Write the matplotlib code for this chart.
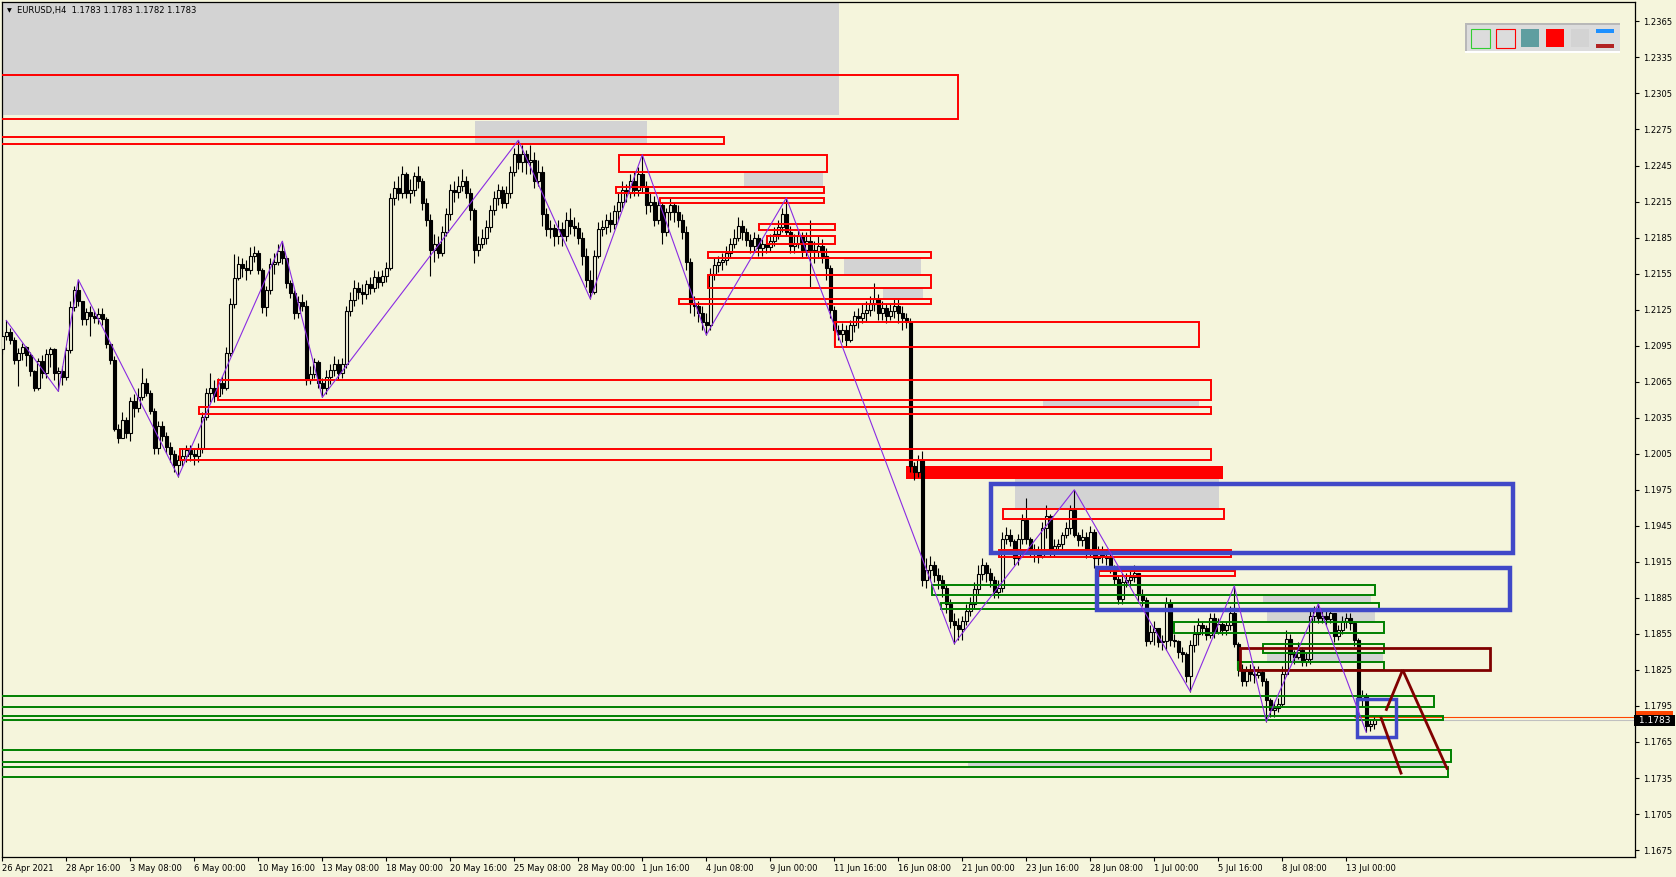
import matplotlib
matplotlib.use("Agg")
import matplotlib.pyplot as plt
from matplotlib.patches import Rectangle
import matplotlib.transforms as mtransforms

W, H = 1676, 877
BG = '#f5f5dc'

# ---- EURUSD H4 candles (bar 0 = 26 Apr 2021 00:00), open = previous close
first_open = 1.2092
closes = [
    1.2103, 1.2106, 1.2100, 1.2083, 1.2089, 1.2094, 1.2087, 1.2074, 1.2060, 1.2082, 1.2072, 1.2088,
    1.2092, 1.2072, 1.2074, 1.2069, 1.2091, 1.2127, 1.2141, 1.2132, 1.2117, 1.2123, 1.2120, 1.2118,
    1.2121, 1.2117, 1.2096, 1.2083, 1.2026, 1.2018, 1.2033, 1.2022, 1.2049, 1.2043, 1.2052, 1.2064,
    1.2056, 1.2041, 1.2010, 1.2028, 1.2020, 1.2011, 1.2005, 1.1996, 1.2000, 1.2003, 1.2008, 1.2005,
    1.2003, 1.2010, 1.2036, 1.2056, 1.2060, 1.2053, 1.2064, 1.2060, 1.2089, 1.2130, 1.2151, 1.2163,
    1.2160, 1.2158, 1.2170, 1.2172, 1.2158, 1.2127, 1.2141, 1.2163, 1.2165, 1.2174, 1.2168, 1.2147,
    1.2139, 1.2122, 1.2131, 1.2128, 1.2066, 1.2071, 1.2081, 1.2064, 1.2060, 1.2069, 1.2075, 1.2080,
    1.2072, 1.2080, 1.2124, 1.2133, 1.2143, 1.2140, 1.2138, 1.2146, 1.2143, 1.2152, 1.2148, 1.2153,
    1.2160, 1.2218, 1.2226, 1.2222, 1.2238, 1.2222, 1.2225, 1.2236, 1.2232, 1.2214, 1.2200, 1.2175,
    1.2180, 1.2172, 1.2190, 1.2205, 1.2225, 1.2223, 1.2228, 1.2232, 1.2222, 1.2208, 1.2175, 1.2180,
    1.2185, 1.2194, 1.2208, 1.2218, 1.2225, 1.2214, 1.2222, 1.2240, 1.2255, 1.2248, 1.2255, 1.2248,
    1.2250, 1.2232, 1.2240, 1.2205, 1.2192, 1.2193, 1.2186, 1.2192, 1.2186, 1.2200, 1.2195, 1.2193,
    1.2185, 1.2170, 1.2150, 1.2140, 1.2170, 1.2192, 1.2194, 1.2200, 1.2196, 1.2207, 1.2215, 1.2225,
    1.2222, 1.2232, 1.2225, 1.2238, 1.2228, 1.2212, 1.2215, 1.2200, 1.2212, 1.2190, 1.2206, 1.2212,
    1.2206, 1.2200, 1.2190, 1.2165, 1.2130, 1.2128, 1.2122, 1.2115, 1.2112, 1.2155, 1.2162, 1.2165,
    1.2166, 1.2172, 1.2180, 1.2185, 1.2195, 1.2190, 1.2183, 1.2178, 1.2185, 1.2176, 1.2180, 1.2177,
    1.2182, 1.2188, 1.2194, 1.2205, 1.2190, 1.2178, 1.2180, 1.2186, 1.2175, 1.2182, 1.2175, 1.2174,
    1.2178, 1.2170, 1.2160, 1.2125, 1.2108, 1.2105, 1.2108, 1.2100, 1.2112, 1.2120, 1.2118, 1.2122,
    1.2125, 1.2130, 1.2134, 1.2122, 1.2126, 1.2120, 1.2124, 1.2128, 1.2122, 1.2118, 1.2115, 1.1995,
    1.1990, 1.2000, 1.1900, 1.1908, 1.1912, 1.1904, 1.1900, 1.1893, 1.1880, 1.1866, 1.1862, 1.1859,
    1.1866, 1.1874, 1.1880, 1.1892, 1.1905, 1.1912, 1.1906, 1.1900, 1.1890, 1.1893, 1.1934, 1.1937,
    1.1932, 1.1918, 1.1934, 1.1950, 1.1934, 1.1925, 1.1922, 1.1920, 1.1943, 1.1953, 1.1926, 1.1928,
    1.1930, 1.1937, 1.1943, 1.1958, 1.1937, 1.1933, 1.1936, 1.1924, 1.1940, 1.1918, 1.1922, 1.1920,
    1.1918, 1.1911, 1.1901, 1.1884, 1.1898, 1.1900, 1.1902, 1.1906, 1.1887, 1.1883, 1.1849, 1.1857,
    1.1860, 1.1848, 1.1849, 1.1881, 1.1850, 1.1849, 1.1840, 1.1838, 1.1820, 1.1846, 1.1855, 1.1862,
    1.1860, 1.1854, 1.1868, 1.1857, 1.1863, 1.1858, 1.1862, 1.1872, 1.1847, 1.1826, 1.1816, 1.1824,
    1.1822, 1.1821, 1.1823, 1.1816, 1.1800, 1.1792, 1.1793, 1.1797, 1.1822, 1.1851, 1.1838, 1.1836,
    1.1842, 1.1832, 1.1834, 1.1870, 1.1874, 1.1868, 1.1870, 1.1867, 1.1872, 1.1853, 1.1858, 1.1866,
    1.1868, 1.1864, 1.1850, 1.1800, 1.1803, 1.1778, 1.1780, 1.1783,
]
highs = [
    1.2108, 1.2116, 1.2110, 1.2102, 1.2093, 1.2097, 1.2095, 1.2090, 1.2075, 1.2085, 1.2087, 1.2092,
    1.2094, 1.2093, 1.2077, 1.2078, 1.2094, 1.2132, 1.2145, 1.2150, 1.2130, 1.2126, 1.2128, 1.2124,
    1.2126, 1.2126, 1.2119, 1.2097, 1.2086, 1.2030, 1.2040, 1.2036, 1.2052, 1.2055, 1.2060, 1.2076,
    1.2068, 1.2058, 1.2043, 1.2032, 1.2032, 1.2023, 1.2015, 1.2008, 1.2004, 1.2010, 1.2012, 1.2012,
    1.2010, 1.2014, 1.2040, 1.2060, 1.2072, 1.2066, 1.2068, 1.2070, 1.2094, 1.2135, 1.2171, 1.2170,
    1.2168, 1.2166, 1.2177, 1.2178, 1.2175, 1.2160, 1.2145, 1.2168, 1.2172, 1.2180, 1.2182, 1.2170,
    1.2150, 1.2141, 1.2136, 1.2138, 1.2133, 1.2078, 1.2085, 1.2083, 1.2068, 1.2075, 1.2080, 1.2086,
    1.2084, 1.2085, 1.2128, 1.2140, 1.2150, 1.2148, 1.2146, 1.2150, 1.2152, 1.2158, 1.2157, 1.2158,
    1.2165, 1.2222, 1.2232, 1.2236, 1.2245, 1.2240, 1.2234, 1.2240, 1.2245, 1.2235, 1.2218, 1.2205,
    1.2188, 1.2186, 1.2195, 1.2210, 1.2230, 1.2232, 1.2236, 1.2242, 1.2236, 1.2226, 1.2210, 1.2186,
    1.2192, 1.2200, 1.2212, 1.2224, 1.2230, 1.2228, 1.2228, 1.2245, 1.2260, 1.2266, 1.2262, 1.2258,
    1.2262, 1.2256, 1.2250, 1.2245, 1.2210, 1.2200, 1.2196, 1.2200, 1.2198, 1.2206, 1.2210, 1.2202,
    1.2198, 1.2190, 1.2176, 1.2158, 1.2175, 1.2198, 1.2200, 1.2205, 1.2206, 1.2212, 1.2222, 1.2232,
    1.2230, 1.2238, 1.2240, 1.2244, 1.2254, 1.2232, 1.2222, 1.2220, 1.2216, 1.2214, 1.2210, 1.2218,
    1.2215, 1.2212, 1.2205, 1.2195, 1.2168, 1.2136, 1.2132, 1.2128, 1.2122, 1.2160, 1.2168, 1.2170,
    1.2172, 1.2178, 1.2185, 1.2192, 1.2202, 1.2200, 1.2193, 1.2188, 1.2190, 1.2188, 1.2184, 1.2184,
    1.2188, 1.2194, 1.2200, 1.2210, 1.2218, 1.2195, 1.2188, 1.2192, 1.2190, 1.2190, 1.2200, 1.2182,
    1.2186, 1.2184, 1.2176, 1.2162, 1.2128, 1.2112, 1.2114, 1.2112, 1.2116, 1.2124, 1.2126, 1.2130,
    1.2132, 1.2136, 1.2147, 1.2138, 1.2132, 1.2130, 1.2130, 1.2134, 1.2134, 1.2128, 1.2122, 1.2118,
    1.1998, 1.2004, 1.2007, 1.1918, 1.1920, 1.1916, 1.1910, 1.1904, 1.1896, 1.1884, 1.1872, 1.1868,
    1.1870, 1.1880, 1.1886, 1.1898, 1.1912, 1.1918, 1.1915, 1.1910, 1.1903, 1.1900, 1.1940, 1.1944,
    1.1942, 1.1934, 1.1938, 1.1955, 1.1968, 1.1936, 1.1930, 1.1928, 1.1948, 1.1962, 1.1955, 1.1934,
    1.1934, 1.1940, 1.1948, 1.1962, 1.1975, 1.1940, 1.1942, 1.1940, 1.1945, 1.1942, 1.1928, 1.1928,
    1.1926, 1.1922, 1.1912, 1.1904, 1.1906, 1.1906, 1.1908, 1.1912, 1.1906, 1.1892, 1.1886, 1.1862,
    1.1866, 1.1858, 1.1854, 1.1886, 1.1884, 1.1855, 1.1850, 1.1844, 1.1840, 1.1850, 1.1862, 1.1868,
    1.1866, 1.1862, 1.1872, 1.1872, 1.1868, 1.1866, 1.1866, 1.1878, 1.1895, 1.1848, 1.1830, 1.1828,
    1.1830, 1.1828, 1.1828, 1.1826, 1.1818, 1.1802, 1.1798, 1.1802, 1.1828, 1.1858, 1.1855, 1.1842,
    1.1848, 1.1844, 1.1840, 1.1876, 1.1878, 1.1880, 1.1876, 1.1874, 1.1876, 1.1872, 1.1862, 1.1870,
    1.1872, 1.1872, 1.1866, 1.1852, 1.1808, 1.1806, 1.1784, 1.1786,
]
lows = [
    1.2088, 1.2100, 1.2096, 1.2080, 1.2061, 1.2083, 1.2078, 1.2070, 1.2057, 1.2058, 1.2068, 1.2068,
    1.2077, 1.2066, 1.2057, 1.2062, 1.2066, 1.2089, 1.2124, 1.2128, 1.2112, 1.2112, 1.2103, 1.2114,
    1.2113, 1.2112, 1.2093, 1.2080, 1.2024, 1.2014, 1.2020, 1.2018, 1.2016, 1.2036, 1.2040, 1.2050,
    1.2053, 1.2038, 1.2005, 1.2005, 1.2016, 1.2006, 1.1998, 1.1990, 1.1986, 1.1995, 1.1998, 1.1999,
    1.1996, 1.1998, 1.2006, 1.2033, 1.2048, 1.2048, 1.2050, 1.2055, 1.2058, 1.2086, 1.2126, 1.2150,
    1.2152, 1.2150, 1.2155, 1.2165, 1.2155, 1.2122, 1.2120, 1.2138, 1.2155, 1.2162, 1.2163, 1.2143,
    1.2135, 1.2117, 1.2118, 1.2124, 1.2062, 1.2063, 1.2068, 1.2060, 1.2052, 1.2055, 1.2063, 1.2070,
    1.2066, 1.2068, 1.2076, 1.2120, 1.2128, 1.2134, 1.2130, 1.2134, 1.2138, 1.2140, 1.2143, 1.2145,
    1.2148, 1.2158, 1.2212, 1.2216, 1.2218, 1.2218, 1.2214, 1.2220, 1.2226, 1.2208, 1.2195, 1.2153,
    1.2165, 1.2168, 1.2170, 1.2186, 1.2200, 1.2215, 1.2218, 1.2224, 1.2218, 1.2200, 1.2164, 1.2170,
    1.2176, 1.2180, 1.2190, 1.2204, 1.2212, 1.2210, 1.2210, 1.2218, 1.2236, 1.2242, 1.2240, 1.2238,
    1.2238, 1.2226, 1.2228, 1.2195, 1.2186, 1.2185, 1.2178, 1.2180, 1.2178, 1.2182, 1.2188, 1.2186,
    1.2180, 1.2162, 1.2144, 1.2134, 1.2138, 1.2168, 1.2186, 1.2188, 1.2190, 1.2192, 1.2200, 1.2210,
    1.2215, 1.2218, 1.2220, 1.2220, 1.2222, 1.2205, 1.2206, 1.2195, 1.2196, 1.2180, 1.2186, 1.2200,
    1.2198, 1.2194, 1.2184, 1.2158, 1.2122, 1.2120, 1.2115, 1.2108, 1.2104, 1.2108, 1.2150, 1.2156,
    1.2158, 1.2162, 1.2168, 1.2176, 1.2182, 1.2183, 1.2178, 1.2172, 1.2174, 1.2170, 1.2170, 1.2172,
    1.2174, 1.2178, 1.2184, 1.2190, 1.2186, 1.2172, 1.2172, 1.2176, 1.2168, 1.2170, 1.2144, 1.2164,
    1.2168, 1.2164, 1.2150, 1.2118, 1.2095, 1.2100, 1.2098, 1.2094, 1.2098, 1.2106, 1.2110, 1.2114,
    1.2115, 1.2120, 1.2124, 1.2116, 1.2116, 1.2114, 1.2116, 1.2118, 1.2114, 1.2108, 1.2110, 1.1990,
    1.1983, 1.1986, 1.1895, 1.1893, 1.1900, 1.1898, 1.1892, 1.1886, 1.1872, 1.1860, 1.1847, 1.1850,
    1.1850, 1.1862, 1.1870, 1.1876, 1.1888, 1.1900, 1.1898, 1.1894, 1.1885, 1.1885, 1.1890, 1.1930,
    1.1928, 1.1912, 1.1912, 1.1930, 1.1930, 1.1920, 1.1915, 1.1914, 1.1918, 1.1935, 1.1920, 1.1920,
    1.1924, 1.1925, 1.1935, 1.1938, 1.1936, 1.1928, 1.1928, 1.1918, 1.1920, 1.1910, 1.1912, 1.1914,
    1.1912, 1.1906, 1.1896, 1.1880, 1.1880, 1.1894, 1.1895, 1.1898, 1.1882, 1.1878, 1.1845, 1.1847,
    1.1846, 1.1844, 1.1842, 1.1842, 1.1845, 1.1844, 1.1835, 1.1832, 1.1815, 1.1807, 1.1840, 1.1846,
    1.1854, 1.1850, 1.1852, 1.1852, 1.1855, 1.1854, 1.1854, 1.1858, 1.1844, 1.1820, 1.1812, 1.1812,
    1.1816, 1.1814, 1.1818, 1.1812, 1.1782, 1.1786, 1.1786, 1.1790, 1.1794, 1.1820, 1.1832, 1.1830,
    1.1834, 1.1828, 1.1828, 1.1830, 1.1866, 1.1864, 1.1864, 1.1862, 1.1864, 1.1848, 1.1850, 1.1855,
    1.1860, 1.1858, 1.1845, 1.1796, 1.1794, 1.1773, 1.1774, 1.1776,
]

# zigzag turning points (bar, price)
zz_bars = [1, 14, 19, 44, 70, 80, 129, 147, 160, 176, 196, 238, 268, 297, 308, 316, 329, 341]
zz_prices = [1.2116, 1.2057, 1.2150, 1.1986, 1.2182, 1.2052, 1.2266, 1.2134, 1.2254, 1.2104,
             1.2218, 1.1847, 1.1975, 1.1807, 1.1895, 1.1782, 1.1880, 1.1773]

# zones: (start bar, end bar, top price, bottom price)
gray_zones = [
    (-5, 209.2, 1.2390, 1.2287), (118.2, 161.2, 1.2282, 1.2263), (185.3, 205.1, 1.2240, 1.2227),
    (210.5, 229.7, 1.2167, 1.2154), (220.2, 230.1, 1.2143, 1.2135), (260.2, 299.2, 1.2050, 1.2045),
    (253.2, 304.2, 1.1985, 1.1960), (315.2, 342.2, 1.1887, 1.1881), (316.1, 343.2, 1.1873, 1.1865),
    (316.1, 345.1, 1.1839, 1.1831), (241.3, 360.7, 1.1748, 1.1744),
]
red_zones = [
    (-5, 239.0, 1.2320, 1.2284), (-5, 180.3, 1.2269, 1.2263), (154.1, 206.2, 1.2254, 1.2240),
    (153.3, 205.4, 1.2227, 1.2222), (164.4, 205.4, 1.2218, 1.2214), (189.2, 208.2, 1.2196, 1.2191),
    (191.2, 208.2, 1.2186, 1.2180), (176.3, 232.2, 1.2173, 1.2168), (176.3, 232.2, 1.2154, 1.2143),
    (169.1, 232.2, 1.2134, 1.2130), (208.1, 299.2, 1.2115, 1.2094), (54.0, 302.2, 1.2066, 1.2050),
    (49.2, 302.2, 1.2044, 1.2038), (44.4, 302.2, 1.2009, 1.2000), (250.1, 305.3, 1.1959, 1.1951),
    (249.2, 307.1, 1.1925, 1.1919), (274.2, 308.2, 1.1907, 1.1903),
]
red_filled = [(226.0, 305.1, 1.1995, 1.1984)]
blue_zones = [(247.05, 377.7, 1.1980, 1.1922), (273.6, 376.9, 1.1910, 1.1875), (338.6, 348.3, 1.1801, 1.1769)]
green_zones = [
    (232.4, 343.2, 1.1896, 1.1887), (234.6, 344.2, 1.1881, 1.1876), (292.9, 345.3, 1.1865, 1.1856),
    (315.1, 345.3, 1.1847, 1.1839), (309.0, 345.3, 1.1832, 1.1825), (-5, 358.0, 1.1803, 1.1794),
    (-5, 360.2, 1.17868, 1.17834), (-5, 362.2, 1.1758, 1.1748), (-5, 361.3, 1.1744, 1.1736),
]
maroon_zones = [(309.5, 371.8, 1.1843, 1.1825)]
maroon_lines = [((345.9, 350.1), (1.1791, 1.1825)), ((350.1, 361.3), (1.1825, 1.1742)),
                ((344.6, 349.8), (1.1786, 1.1738))]

bid, ask = 1.1783, 1.1786
ask_from_bar = 338
date_pos = list(range(0, 337, 16))
date_labels = ['26 Apr 2021', '28 Apr 16:00', '3 May 08:00', '6 May 00:00', '10 May 16:00',
               '13 May 08:00', '18 May 00:00', '20 May 16:00', '25 May 08:00', '28 May 00:00',
               '1 Jun 16:00', '4 Jun 08:00', '9 Jun 00:00', '11 Jun 16:00', '16 Jun 08:00',
               '21 Jun 00:00', '23 Jun 16:00', '28 Jun 08:00', '1 Jul 00:00', '5 Jul 16:00',
               '8 Jul 08:00', '13 Jul 00:00']
price_ticks = [round(1.2365 - 0.003 * k, 4) for k in range(24)]

plt.rcParams['font.family'] = ['DejaVu Sans']

fig = plt.figure(figsize=(W / 100, H / 100), dpi=100, facecolor=BG)
ax = fig.add_axes([2 / W, 20 / H, 1633 / W, 855 / H])
ax.set_facecolor(BG)
ax.set_xlim(-0.075, 408.175)
ax.set_ylim(1.166924, 1.238115)


def box(x0, x1, top, bot, **kw):
    ax.add_patch(Rectangle((x0, bot), x1 - x0, top - bot, **kw))


# background zones
for z in gray_zones:
    box(*z, facecolor='#d3d3d3', edgecolor='none', zorder=1)
for z in red_filled:
    box(*z, facecolor='#ff0000', edgecolor='none', zorder=1)

# bid / ask lines
ax.hlines(ask, ask_from_bar, 420, color='#ff4500', lw=0.8, zorder=1.5)
ax.axhline(bid, color='#c0c0c0', lw=0.8, zorder=1.5)

# candles
opens = [first_open] + closes[:-1]
for i, (o, h, l, c) in enumerate(zip(opens, highs, lows, closes)):
    h = max(h, o, c)
    l = min(l, o, c)
    ax.plot([i, i], [l, h], color='black', lw=0.8, zorder=3, solid_capstyle='butt')
    lo, hi = min(o, c), max(o, c)
    if hi - lo < 0.00005:
        ax.plot([i - 0.32, i + 0.32], [c, c], color='black', lw=0.8, zorder=3)
    else:
        ax.add_patch(Rectangle((i - 0.3, lo), 0.6, hi - lo,
                               facecolor='black' if c < o else BG,
                               edgecolor='black', lw=0.8, zorder=3))

# outlined zones
for z in red_zones:
    box(*z, facecolor='none', edgecolor='#ff0000', lw=1.4, zorder=4)
for z in green_zones:
    box(*z, facecolor='none', edgecolor='#008000', lw=1.4, zorder=4)
for z in maroon_zones:
    box(*z, facecolor='none', edgecolor='#800000', lw=2.0, zorder=4)
for k, z in enumerate(blue_zones):
    box(*z, facecolor='none', edgecolor='#4048c8', lw=3.2 if k < 2 else 2.5, zorder=4)
for xs, ys in maroon_lines:
    ax.plot(xs, ys, color='#800000', lw=2.0, zorder=4, solid_capstyle='butt')

# zigzag
ax.plot(zz_bars, zz_prices, color='#8a2be2', lw=0.8, zorder=5)

# axes styling
for s in ax.spines.values():
    s.set_color('black')
    s.set_linewidth(0.9)
ax.yaxis.tick_right()
ax.set_yticks(price_ticks)
ax.set_yticklabels(['%.4f' % p for p in price_ticks])
ax.set_xticks(date_pos)
ax.set_xticklabels(date_labels, ha='left')
ax.tick_params(axis='y', direction='out', length=3, width=0.8, labelsize=6, pad=3, colors='black')
ax.tick_params(axis='x', direction='out', length=3, width=0.8, labelsize=6, pad=2, colors='black')

# current price labels (ask box mostly hidden behind the bid box)
tr = mtransforms.blended_transform_factory(ax.transAxes, ax.transData)
ax.add_patch(Rectangle((1.0005, ask - 0.00045), 0.0225, 0.0009, transform=tr, fc='#ff4500',
                       ec='none', zorder=10, clip_on=False))
ax.text(1.0005, bid, ' 1.1783 ', transform=tr, color='white', fontsize=6.5, va='center',
        ha='left', bbox=dict(boxstyle='square,pad=0.15', fc='black', ec='none'), zorder=11,
        clip_on=False)

# overlay in pixel space: title and colour panel
ov = fig.add_axes([0, 0, 1, 1])
ov.set_xlim(0, W)
ov.set_ylim(H, 0)
ov.axis('off')
ov.patch.set_alpha(0)
ov.text(7, 10.5, '\u25bc', fontsize=4.5, va='center', ha='left', color='black')
ov.text(17, 10.5, 'EURUSD,H4  1.1783 1.1783 1.1782 1.1783', fontsize=6, va='center',
        ha='left', color='black')

ov.add_patch(Rectangle((1465, 23), 155, 30, fc='#dcdcdc', ec='none'))
ov.add_patch(Rectangle((1465, 23), 155, 2.3, fc='#b8b8b8', ec='none'))
ov.add_patch(Rectangle((1465, 23), 2.3, 30, fc='#b8b8b8', ec='none'))
ov.add_patch(Rectangle((1465, 51), 155, 2, fc='white', ec='none'))
ov.add_patch(Rectangle((1470.5, 28.5), 19, 19, fc='#dcdcdc', ec='#32cd32', lw=0.8))
ov.add_patch(Rectangle((1495.5, 28.5), 19, 19, fc='#dcdcdc', ec='#ff0000', lw=0.8))
ov.add_patch(Rectangle((1521, 29), 18, 18, fc='#5f9ea0', ec='none'))
ov.add_patch(Rectangle((1546, 29), 18, 18, fc='#ff0000', ec='none'))
ov.add_patch(Rectangle((1571, 29), 18, 18, fc='#d3d3d3', ec='none'))
ov.add_patch(Rectangle((1596, 29), 18, 4, fc='#1e90ff', ec='none'))
ov.add_patch(Rectangle((1596, 43.7), 18, 4.3, fc='#b22222', ec='none'))

fig.savefig('out.png', dpi=100, facecolor=BG)
